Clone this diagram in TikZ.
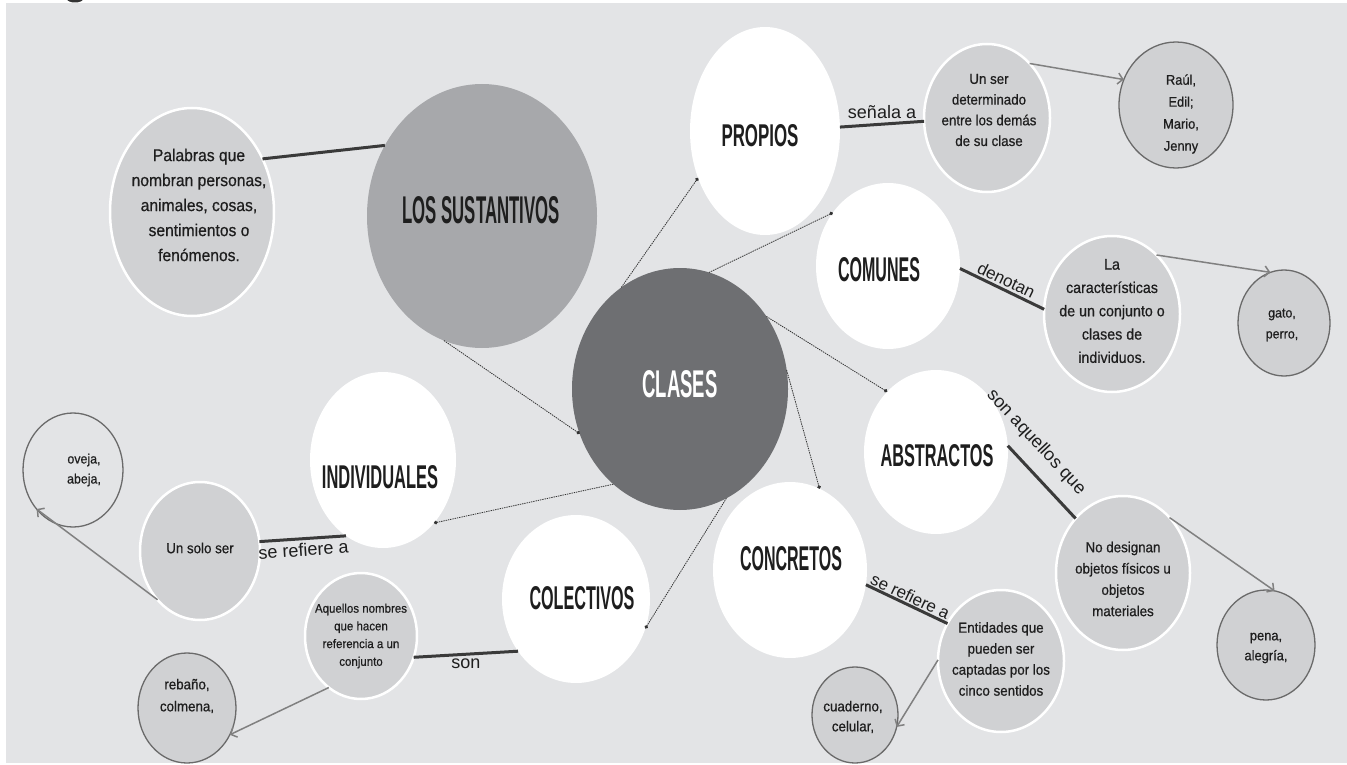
\documentclass[tikz,border=0pt]{standalone}
\usepackage{fontspec}
\usepackage{graphicx}
\setmainfont{Liberation Sans}
\newfontfamily\bodyf[FakeStretch=0.92,FakeBold=0.6]{Liberation Sans}
\newfontfamily\titlef{Liberation Sans}
\usetikzlibrary{shapes.geometric,arrows.meta}
\definecolor{bgcol}{HTML}{E3E4E6}
\definecolor{lightfill}{HTML}{D0D1D3}
\definecolor{losfill}{HTML}{A7A8AB}
\definecolor{clafill}{HTML}{6E6F72}
\definecolor{leafline}{HTML}{6A6A6A}
\definecolor{strongcol}{HTML}{3A3A3A}
\definecolor{arrowcol}{HTML}{808080}
\definecolor{dotcol}{HTML}{333333}
\definecolor{txt}{HTML}{1E1E1E}
\newcommand{\ttl}[3]{\resizebox{#1pt}{#2pt}{\titlef\bfseries #3}}
\begin{document}
\begin{tikzpicture}[x=1pt,y=-1pt,
  base/.style={ellipse, inner sep=0pt, outer sep=0pt},
  sz/.style 2 args={minimum width=#1pt, minimum height=#2pt},
  whitec/.style={base, fill=white},
  lightc/.style={base, fill=lightfill, draw=white, line width=2.5pt},
  leafc/.style={base, fill=lightfill, draw=leafline, line width=1.3pt},
  emptyc/.style={base, draw=leafline, line width=1.3pt},
  ttlnode/.style={inner sep=0pt, text=txt},
  body/.style={inner sep=0pt, align=center, text=txt},
  dotc/.style={draw=dotcol, line width=0.8pt, dash pattern=on 1.4pt off 0.9pt, -{Circle[length=3.6pt]}},
  strongline/.style={draw=strongcol, line width=3pt},
  garrow/.style={draw=arrowcol, line width=1.5pt, -{Straight Barb[length=5pt,width=11pt]}},
  lab/.style={font=\fontsize{18}{20}\selectfont, text=txt, inner sep=1pt}
]
\useasboundingbox (0,0) rectangle (1347,765);
\fill[white] (0,0) rectangle (1347,765);
\fill[bgcol] (6,3) rectangle (1347,763);
\fill[dotcol] (75,-1) ellipse (8 and 3.5);

% ---------- circles ----------
\node[lightc, sz={164}{208}] (pal) at (192,212) {};
\node[base, fill=losfill, sz={230}{264}] (los) at (482,216) {};
\node[base, fill=clafill, sz={216}{242}] (cla) at (680,389) {};
\node[whitec, sz={150}{208}] (pro) at (765,131) {};
\node[lightc, sz={126}{148}] (unser) at (987,118) {};
\node[leafc, sz={114}{126}] (raul) at (1176,105) {};
\node[whitec, sz={144}{166}] (com) at (888,266) {};
\node[lightc, sz={136}{156}] (lacar) at (1112,314) {};
\node[leafc, sz={92}{106}] (gato) at (1284,323) {};
\node[whitec, sz={144}{164}] (abs) at (936,452) {};
\node[lightc, sz={134}{154}] (nodes) at (1123,573) {};
\node[leafc, sz={98}{110}] (pena) at (1266,645) {};
\node[whitec, sz={154}{176}] (con) at (790,570) {};
\node[lightc, sz={126}{142}] (ent) at (1001,661) {};
\node[leafc, sz={86}{96}] (cuad) at (855,715) {};
\node[whitec, sz={148}{168}] (col) at (576,599) {};
\node[lightc, sz={112}{126}] (aque) at (361,636) {};
\node[leafc, sz={98}{110}] (reb) at (187,708) {};
\node[whitec, sz={146}{176}] (ind) at (383,460) {};
\node[lightc, sz={120}{138}] (solo) at (200,551) {};
\node[emptyc, sz={100}{114}] (ove) at (73,470) {};

% ---------- titles ----------
\node[ttlnode] (lost) at (481,210) {\ttl{157}{27}{LOS SUSTANTIVOS}};
\node[ttlnode, text=white] (clat) at (680,384) {\ttl{75}{27}{CLASES}};
\node[ttlnode] (prot) at (760,136) {\ttl{77}{22}{PROPIOS}};
\node[ttlnode] (comt) at (879,270) {\ttl{82}{24}{COMUNES}};
\node[ttlnode] (abst) at (937,456) {\ttl{113}{22}{ABSTRACTOS}};
\node[ttlnode] (cont) at (791,559) {\ttl{102}{24}{CONCRETOS}};
\node[ttlnode] (colt) at (582,598) {\ttl{105}{23}{COLECTIVOS}};
\node[ttlnode] (indt) at (380,477) {\ttl{116}{23}{INDIVIDUALES}};

% ---------- body texts ----------
\node[body, font=\bodyf\fontsize{17}{25}\selectfont] (palt) at (199,205) {Palabras que\\nombran personas,\\animales, cosas,\\sentimientos o\\fenómenos.};
\node[body, font=\bodyf\fontsize{14.5}{20.7}\selectfont] (unsert) at (989,110) {Un ser\\determinado\\entre los demás\\de su clase};
\node[body, font=\bodyf\fontsize{14}{22}\selectfont] (rault) at (1181,114) {Raúl,\\Edil;\\Mario,\\Jenny};
\node[body, font=\bodyf\fontsize{15.5}{23.3}\selectfont] (lacart) at (1112,311) {La\\características\\de un conjunto o\\clases de\\individuos.};
\node[body, font=\bodyf\fontsize{13.5}{21}\selectfont] (gatot) at (1282,325) {gato,\\perro,};
\node[body, font=\bodyf\fontsize{14.5}{21.3}\selectfont] (nodest) at (1123,579) {No designan\\objetos físicos u\\objetos\\materiales};
\node[body, font=\bodyf\fontsize{14}{20}\selectfont] (penat) at (1266,648) {pena,\\alegría,};
\node[body, font=\bodyf\fontsize{14.5}{21}\selectfont] (entt) at (1001,659) {Entidades que\\pueden ser\\captadas por los\\cinco sentidos};
\node[body, font=\bodyf\fontsize{14.5}{20}\selectfont] (cuadt) at (853,717) {cuaderno,\\celular,};
\node[body, font=\bodyf\fontsize{12.5}{17.7}\selectfont] (aquet) at (361,636) {Aquellos nombres\\que hacen\\referencia a un\\conjunto};
\node[body, font=\bodyf\fontsize{14.5}{22}\selectfont] (rebt) at (187,696) {rebaño,\\colmena,};
\node[body, font=\bodyf\fontsize{13.5}{20}\selectfont] (ovet) at (84,470) {oveja,\\abeja,};
\node[body, font=\bodyf\fontsize{14.5}{20}\selectfont] (solot) at (200,548) {Un solo ser};

% ---------- connectors ----------
\draw[strongline] (pal.37) -- (los.144);
\draw[dotc] (los.253) -- (cla.204.7);
\draw[dotc] (cla.120.5) -- (pro.215);
\draw[dotc] (cla.76) -- (com.136.5);
\draw[dotc] (cla.40) -- (abs.129.4);
\draw[dotc] (cla.10) -- (con.70);
\draw[dotc] (cla.293) -- (col.337);
\draw[dotc] (cla.235.6) -- (ind.309.4);

\draw[strongline] (pro.3) -- node[lab, above=3pt] (l1) {señala a} (unser.183);
\draw[garrow] (unser.52) -- (raul.154);
\draw[strongline] (com.358.5) -- node[lab, sloped, above=1pt, font=\fontsize{17}{19}\selectfont] (l2) {denotan} (lacar.176);
\draw[garrow] (lacar.53.7) -- (gato.105.5);
\draw[strongline] (abs.5.4) -- node[lab, sloped, above=12pt, pos=0.17] (l3) {son aquellos que} (nodes.131.8);
\draw[garrow] (nodes.50) -- (pena.81.7);
\draw[strongline] (con.349) -- node[lab, sloped, above=0pt, font=\fontsize{17}{19}\selectfont] (l4) {se refiere a} (ent.145.8);
\draw[garrow] (ent.179) -- (cuad.344.5);
\draw[strongline] (col.222) -- node[lab, below=2pt] (l5) {son} (aque.338.6);
\draw[garrow] (aque.238) -- (reb.328);
\draw[strongline] (ind.244) -- node[lab, sloped, below=2pt] (l6) {se refiere a} (solo.9);
\draw[garrow] (solo.229.7) -- (ove.227);
\end{tikzpicture}
\end{document}
